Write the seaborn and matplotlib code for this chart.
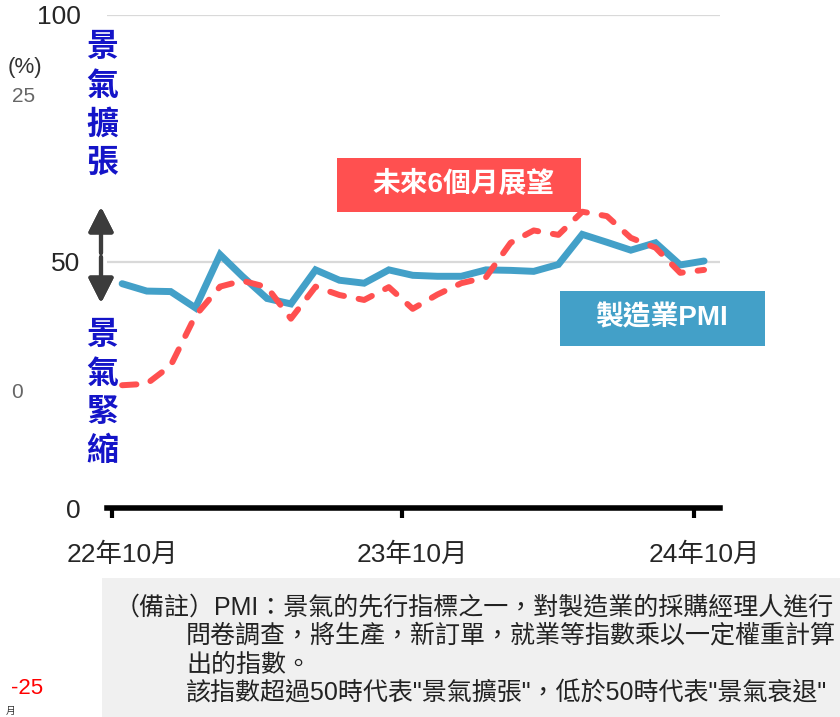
import matplotlib
matplotlib.use('Agg')
import matplotlib.pyplot as plt
from matplotlib.patches import Rectangle
import seaborn as sns
import pandas as pd

# monthly data, 2022/10 - 2024/10
months = pd.date_range('2022-10-01', periods=25, freq='MS')
pmi = [45.5, 44.0, 43.9, 40.6, 51.4, 47.0, 42.5, 41.4, 48.3, 46.2, 45.6, 48.3, 47.2,
       47.0, 47.0, 48.3, 48.2, 48.0, 49.4, 55.5, 53.9, 52.3, 53.8, 49.3, 50.1]
outlook = [24.9, 25.2, 28.9, 39.0, 44.9, 46.1, 44.8, 38.4, 44.9, 43.2, 42.2, 44.8, 40.4,
           43.3, 45.6, 46.8, 53.8, 56.3, 55.4, 60.1, 59.2, 54.8, 52.8, 47.7, 48.3]
xtick_labels = ['22年10月', '23年10月', '24年10月']
ytick_values = [0, 50, 100]
note_lines = ['（備註）PMI：景氣的先行指標之一，對製造業的採購經理人進行',
              '問卷調查，將生產，新訂單，就業等指數乘以一定權重計算',
              '出的指數。',
              '該指數超過50時代表"景氣擴張"，低於50時代表"景氣衰退"']

BLUE = '#43a0c8'
RED = '#ff5050'
TXT_BLUE = '#1414c8'

sns.set_style('white')
plt.rcParams['font.family'] = ['Liberation Sans', 'Noto Sans CJK TC']

W, H = 840, 717
fig = plt.figure(figsize=(W / 100, H / 100), dpi=100)

def fx(x):
    return x / W

def fy(y):
    return 1 - y / H

ax = fig.add_axes([fx(107), fy(508), fx(720) - fx(107), fy(15) - fy(508)])

df = pd.DataFrame({'date': months + pd.Timedelta(days=13), 'pmi': pmi, 'outlook': outlook})
sns.lineplot(data=df, x='date', y='pmi', ax=ax, color=BLUE, lw=5,
             solid_capstyle='round', solid_joinstyle='miter', zorder=3)
sns.lineplot(data=df, x='date', y='outlook', ax=ax, color=RED, lw=4.3,
             dashes=False, zorder=4)
ax.lines[-1].set_dashes((2.4, 2.5))
ax.lines[-1].set_dash_capstyle('round')

ax.set_ylim(0, 100)
ax.set_xlim(pd.Timestamp('2022-09-25'), pd.Timestamp('2024-11-03'))
ax.set_xlabel('')
ax.set_ylabel('')

# major ticks at month start, labels under the data points
tick_dates = [months[0], months[12], months[24]]
ax.set_xticks(tick_dates)
ax.set_xticklabels([])
ax.set_xticks([d + pd.Timedelta(days=13) for d in tick_dates], minor=True)
ax.set_xticklabels(xtick_labels, minor=True, fontsize=19)
ax.tick_params(axis='x', which='major', direction='out', length=7, width=3, color='black', bottom=True)
ax.tick_params(axis='x', which='minor', length=0, pad=25, bottom=True)

ax.set_yticks(ytick_values)
ax.set_yticklabels([str(v) for v in ytick_values], fontsize=19)
ax.tick_params(axis='y', length=0, pad=19)
ax.yaxis.grid(True, color='#d9d9d9', lw=1.6)
ax.xaxis.grid(False)

for s in ['left', 'right', 'top']:
    ax.spines[s].set_visible(False)
ax.spines['bottom'].set_linewidth(4)
ax.spines['bottom'].set_color('black')
ax.spines['bottom'].set_zorder(5)

# series labels
fig.add_artist(Rectangle((fx(337), fy(212)), fx(581) - fx(337), fy(158) - fy(212),
                         transform=fig.transFigure, color=RED, lw=0))
fig.text(fx(463), fy(184), '未來6個月展望', color='white', fontsize=20, fontweight='bold',
         ha='center', va='center')
fig.add_artist(Rectangle((fx(560), fy(346)), fx(765) - fx(560), fy(291) - fy(346),
                         transform=fig.transFigure, color=BLUE, lw=0))
fig.text(fx(661), fy(318), '製造業PMI', color='white', fontsize=20, fontweight='bold',
         ha='center', va='center')

# expansion / contraction side labels
for i, ch in enumerate('景氣擴張'):
    fig.text(fx(102), fy(48 + 38.5 * i), ch, color=TXT_BLUE, fontsize=23,
             fontweight='bold', ha='center', va='center')
for i, ch in enumerate('景氣緊縮'):
    fig.text(fx(102), fy(336 + 38.5 * i), ch, color=TXT_BLUE, fontsize=23,
             fontweight='bold', ha='center', va='center')

arrow = dict(arrowstyle='-|>,head_length=0.75,head_width=0.38', mutation_scale=20,
             lw=3, color='#3c3c3c', shrinkA=0, shrinkB=0)
fig.add_artist(plt.annotate('', xy=(fx(101), fy(207)), xytext=(fx(101), fy(253)),
                            xycoords='figure fraction', arrowprops=arrow))
fig.add_artist(plt.annotate('', xy=(fx(101), fy(303)), xytext=(fx(101), fy(257)),
                            xycoords='figure fraction', arrowprops=arrow))

# leftover secondary-scale labels
fig.text(fx(25), fy(68), '(%)', fontsize=16, color='#333333', ha='center', va='center')
fig.text(fx(24), fy(97), '25', fontsize=15, color='#666666', ha='center', va='center')
fig.text(fx(17), fy(392), '0', fontsize=15, color='#666666', ha='center', va='center')
fig.text(fx(27), fy(689), '-25', fontsize=16, color='red', ha='center', va='center')
fig.text(fx(11), fy(716), '月', fontsize=7, color='#333333', ha='center', va='bottom')

# note box
fig.add_artist(Rectangle((fx(102), 0), 1 - fx(102), fy(578),
                         transform=fig.transFigure, color='#f0f0f0', lw=0, zorder=0))
fig.text(fx(115), fy(607), note_lines[0], fontsize=18, color='#222222', va='center')
for i, line in enumerate(note_lines[1:]):
    fig.text(fx(186), fy(636 + 28.7 * i), line, fontsize=18, color='#222222', va='center')

fig.savefig('out.png', dpi=100)
